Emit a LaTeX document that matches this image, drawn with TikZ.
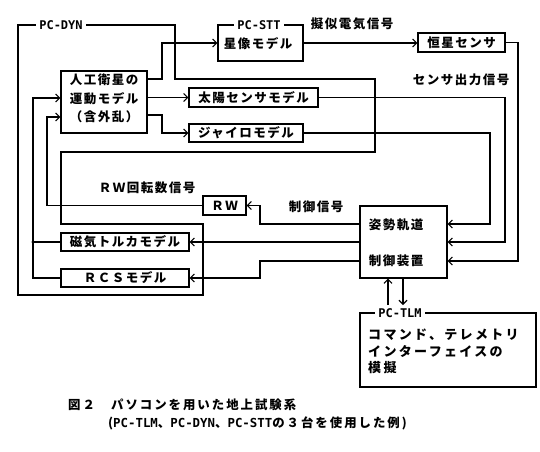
\documentclass[tikz,border=0pt]{standalone}
\usepackage{fontspec}
\setmainfont{Noto Sans CJK JP}
\newfontfamily\jp[LetterSpace=12]{Noto Sans CJK JP}
\newfontfamily\jpw[LetterSpace=18]{Noto Sans CJK JP}
\newfontfamily\jpc[LetterSpace=16]{Noto Sans CJK JP}
\newfontfamily\lat{DejaVu Sans Mono}
\usetikzlibrary{arrows.meta}
\tikzset{
  boxn/.style={draw, line width=1.3pt, inner sep=0pt, font=\jp\bfseries\fontsize{12.5}{15}\selectfont},
  wire/.style={line width=1.1pt},
  arr/.style={wire, -{Straight Barb[length=4pt,width=8pt]}},
  lbl/.style={font=\jp\bfseries\fontsize{12.5}{15}\selectfont, inner sep=0pt},
  tag/.style={font=\lat\bfseries\fontsize{12}{14}\selectfont, fill=white, inner xsep=3pt, inner ysep=0pt},
  capn/.style={font=\jpc\bfseries\fontsize{12.4}{14}\selectfont, inner sep=0pt, anchor=west},
  frame/.style={line width=1.2pt}
}
\begin{document}
\begin{tikzpicture}[x=1pt,y=-1pt]
\useasboundingbox[fill=white] (0,0) rectangle (540,451);
% PC-DYN frame
\draw[frame] (18,25) -- (175,25) -- (175,79) -- (375,79) -- (375,152) -- (61,152) -- (61,224) -- (203,224) -- (203,295) -- (18,295) -- cycle;
\node[tag] (dyntag) at (61,25) {PC-DYN};
% PC-STT
\node[boxn, minimum width=85pt, minimum height=36pt] (stt) at (260.5,43) {};
\node[tag] (stttag) at (259,25) {PC-STT};
\node[lbl] (sttmodel) at (258,44) {星像モデル};
% satellite model
\node[boxn, minimum width=86pt, minimum height=62pt] (sat) at (104,102) {};
\node[lbl, align=center, font=\jp\bfseries\fontsize{12.5}{18.5}\selectfont] (sattxt) at (104,98.5) {人工衛星の\\運動モデル\\（含外乱）};
\node[boxn, minimum width=129pt, minimum height=19pt] (sun) at (253.5,97.5) {太陽センサモデル};
\node[boxn, minimum width=114pt, minimum height=18pt] (gyro) at (246,133) {ジャイロモデル};
\node[boxn, minimum width=87pt, minimum height=19pt] (star) at (461.5,42.5) {恒星センサ};
\node[boxn, minimum width=87pt, minimum height=72pt] (ctrl) at (403.5,242) {};
\node[lbl] (ctrl1) at (396,225) {姿勢軌道};
\node[lbl] (ctrl2) at (396,261) {制御装置};
\node[boxn, minimum width=43pt, minimum height=19pt] (rw) at (224.5,205.5) {ＲＷ};
\node[boxn, minimum width=128pt, minimum height=18pt] (mag) at (125,242) {磁気トルカモデル};
\node[boxn, minimum width=128pt, minimum height=18pt] (rcs) at (125,278) {ＲＣＳモデル};
% PC-TLM
\node[boxn, minimum width=176pt, minimum height=74pt] (tlm) at (448,350) {};
\node[tag] (tlmtag) at (400,313) {PC-TLM};
\node[lbl, align=left, anchor=west, font=\jpw\bfseries\fontsize{13}{16.5}\selectfont] (tlmtxt) at (368,351.5) {コマンド、テレメトリ\\インターフェイスの\\模擬};
% labels
\node[lbl] (l1) at (352,24) {擬似電気信号};
\node[lbl] (l2) at (461,80) {センサ出力信号};
\node[lbl] (l3) at (147,188) {ＲＷ回転数信号};
\node[lbl] (l4) at (316,207) {制御信号};
% helper coordinates
\coordinate (j1) at (162,0);
\coordinate (c3) at (518,0);
\coordinate (c2) at (505,0);
\coordinate (c1) at (490,0);
\coordinate (cm) at (260,0);
\coordinate (c47) at (47,0);
\coordinate (c33) at (33,0);
\coordinate (up0) at (388,305);
\coordinate (dn0) at (403,305);
% connectors
\draw[arr] ([yshift=23pt]sat.east) -| (j1 |- stt.west) -- (stt.west);
\draw[arr] (sat.east |- sun.west) -- (sun.west);
\draw[arr] ([yshift=-13pt]sat.east) -| (j1 |- gyro.west) -- (gyro.west);
\draw[arr] (stt.east) -- (stt.east -| star.west);
\draw[arr] (star.east) -- (star.east -| c3) |- ([yshift=-19pt]ctrl.east);
\draw[arr] (sun.east) -- (sun.east -| c2) |- (ctrl.east);
\draw[arr] (gyro.east) -- (gyro.east -| c1) |- ([yshift=18pt]ctrl.east);
\draw[arr] ([yshift=18pt]ctrl.west) -| (cm |- rw.east) -- (rw.east);
\draw[arr] (ctrl.west) -- (ctrl.west -| mag.east);
\draw[arr] ([yshift=-19pt]ctrl.west) -| (cm |- rcs.east) -- (rcs.east);
\draw[arr] (rw.west) -- (rw.west -| c47) |- ([yshift=-15pt]sat.west);
\draw[arr] (rcs.west) -- (rcs.west -| c33) |- ([yshift=4pt]sat.west);
\draw[wire] (mag.west) -- (mag.west -| c33);
\fill (mag.west -| c33) circle (1.7pt);
\draw[arr] (up0) -- (up0 |- ctrl.south);
\draw[arr] (dn0 |- ctrl.south) -- (dn0);
% caption
\node[capn] (fig) at (68,405) {図２};
\node[capn] (cap1) at (111,405) {パソコンを用いた地上試験系};
\node[capn] (cap2) at (108,423) {(\lat\bfseries PC-TLM\jpc\bfseries 、\lat\bfseries PC-DYN\jpc\bfseries 、\lat\bfseries PC-STT\jpc\bfseries の３台を使用した例)};
\end{tikzpicture}
\end{document}
